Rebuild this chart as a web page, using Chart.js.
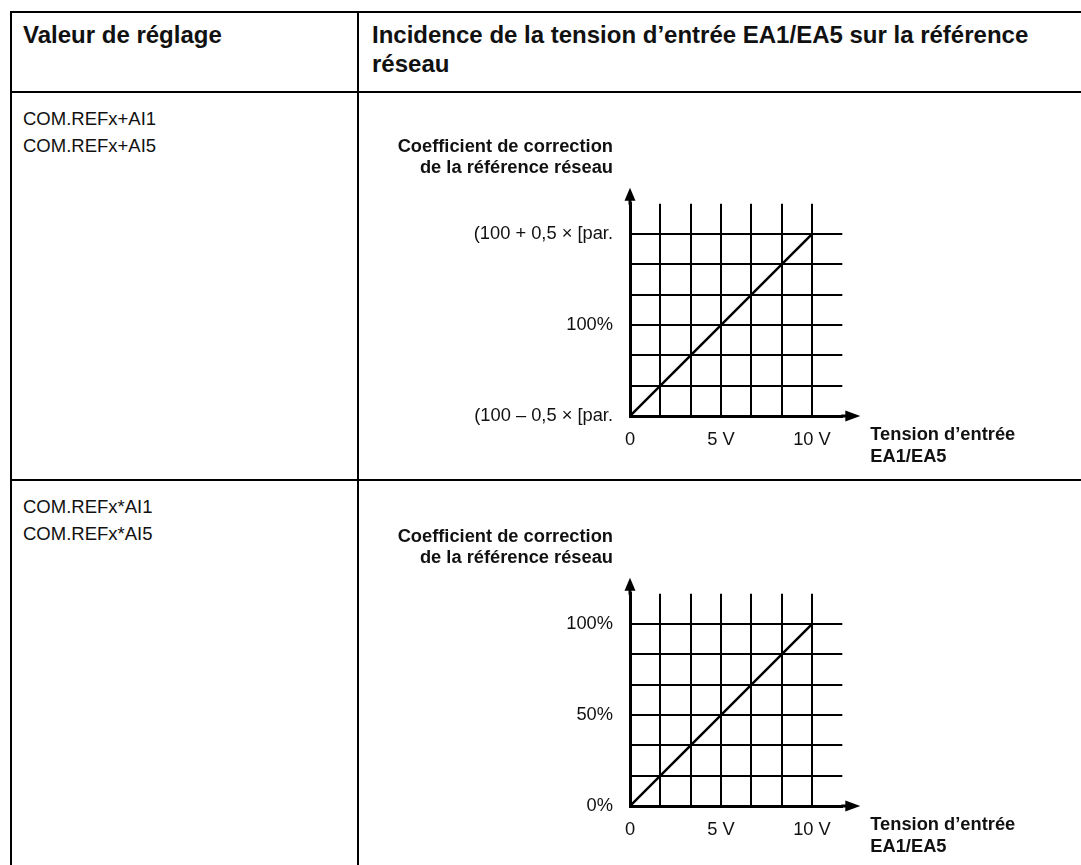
<!DOCTYPE html>
<html lang="fr">
<head>
<meta charset="utf-8">
<title>Incidence de la tension d'entrée EA1/EA5</title>
<script src="https://cdn.jsdelivr.net/npm/chart.js@4.4.1/dist/chart.umd.min.js"></script>
<style>
  html, body { margin: 0; padding: 0; background: #fff; }
  body { width: 1081px; height: 865px; overflow: hidden; position: relative; font-family: "Liberation Sans", Arial, sans-serif; color: #111; }
  .line { position: absolute; background: #000; }
  .txt { position: absolute; white-space: nowrap; }
  .head { font-weight: bold; font-size: 24px; line-height: 29px; }
  .cell { font-size: 18.5px; line-height: 27px; }
  canvas { position: absolute; }
</style>
</head>
<body>
  <!-- table rules -->
  <div class="line" style="left:10px; top:11px; width:1071px; height:2px;"></div>
  <div class="line" style="left:10px; top:11px; width:2px; height:854px;"></div>
  <div class="line" style="left:10px; top:91px; width:1071px; height:2px;"></div>
  <div class="line" style="left:357px; top:11px; width:2px; height:854px;"></div>
  <div class="line" style="left:10px; top:479px; width:1071px; height:2px;"></div>

  <div class="txt head" style="left:23px; top:20px;">Valeur de réglage</div>
  <div class="txt head" style="left:372px; top:20px;">Incidence de la tension d’entrée EA1/EA5 sur la référence<br>réseau</div>

  <div class="txt cell" style="left:23px; top:105px;">COM.REFx+AI1<br>COM.REFx+AI5</div>
  <div class="txt cell" style="left:23px; top:493px;">COM.REFx*AI1<br>COM.REFx*AI5</div>

  <canvas id="chartPlus" width="721" height="380" style="left:360px; top:93px;"></canvas>
  <canvas id="chartMult" width="721" height="380" style="left:360px; top:483px;"></canvas>

<script>
// input voltage EA1/EA5 (V)
const voltage = [0, 10];
// COM.REFx+AI : correction around 100 %, in multiples of the parameter
const coefPlus = [-0.5, 0.5];
// COM.REFx*AI : correction in %
const coefMult = [0, 100];

// grid positions (one extra cell beyond the last value, as in the drawing)
const voltGrid = [0, 10 / 6, 20 / 6, 5, 40 / 6, 50 / 6, 10, 70 / 6];
const voltTicks = [0, 5, 10];
const voltLabels = ['0', '5 V', '10 V'];

const plusGrid = [-0.5, -2 / 6, -1 / 6, 0, 1 / 6, 2 / 6, 0.5, 4 / 6];
const plusTicks = [-0.5, 0, 0.5];
const plusLabels = ['(100 – 0,5 × [par.', '100%', '(100 + 0,5 × [par.'];

const multGrid = [0, 100 / 6, 200 / 6, 50, 400 / 6, 500 / 6, 100, 700 / 6];
const multTicks = [0, 50, 100];
const multLabels = ['0%', '50%', '100%'];

const yTitle = ['Coefficient de correction', 'de la référence réseau'];
const xTitle = ['Tension d’entrée', 'EA1/EA5'];

const FONT = '"Liberation Sans", Arial, sans-serif';

function labelFor(value, ticks, labels) {
    const i = ticks.findIndex(t => Math.abs(t - value) < 1e-6);
    return i >= 0 ? labels[i] : '';
}

// axis arrows and axis captions
const axisDecor = {
    id: 'axisDecor',
    afterDraw(chart) {
        const ctx = chart.ctx;
        const a = chart.chartArea;
        const yScale = chart.scales.y;
        const yTop = yScale.getPixelForValue(yScale.ticks[yScale.ticks.length - 2].value);
        ctx.save();
        ctx.fillStyle = '#000';
        ctx.strokeStyle = '#000';
        ctx.lineWidth = 3;
        // y arrow
        ctx.beginPath();
        ctx.moveTo(a.left, a.top + 1);
        ctx.lineTo(a.left, a.top - 6);
        ctx.stroke();
        ctx.beginPath();
        ctx.moveTo(a.left, a.top - 16);
        ctx.lineTo(a.left - 5.5, a.top - 3);
        ctx.lineTo(a.left + 5.5, a.top - 3);
        ctx.closePath();
        ctx.fill();
        // x arrow
        ctx.beginPath();
        ctx.moveTo(a.right - 1, a.bottom);
        ctx.lineTo(a.right + 6, a.bottom);
        ctx.stroke();
        ctx.beginPath();
        ctx.moveTo(a.right + 18, a.bottom);
        ctx.lineTo(a.right + 3, a.bottom - 5.5);
        ctx.lineTo(a.right + 3, a.bottom + 5.5);
        ctx.closePath();
        ctx.fill();

        ctx.font = 'bold 18.3px ' + FONT;
        ctx.fillStyle = '#111';
        ctx.textBaseline = 'alphabetic';
        ctx.textAlign = 'right';
        ctx.fillText(yTitle[0], a.left - 17, yTop - 82);
        ctx.fillText(yTitle[1], a.left - 17, yTop - 61);
        ctx.textAlign = 'left';
        ctx.fillText(xTitle[0], a.right + 28, a.bottom + 24);
        ctx.fillText(xTitle[1], a.right + 28, a.bottom + 46);
        ctx.restore();
    }
};

function makeChart(id, yData, yGrid, yTicks, yLabels) {
    const ctx = document.getElementById(id).getContext('2d');
    return new Chart(ctx, {
        type: 'line',
        data: {
            datasets: [{
                data: voltage.map((v, i) => ({ x: v, y: yData[i] })),
                borderColor: '#000',
                borderWidth: 2.5,
                pointRadius: 0,
                fill: false,
                tension: 0
            }]
        },
        options: {
            responsive: false,
            animation: false,
            events: [],
            layout: {
                padding: { left: 0, top: 110.7, right: 238.7, bottom: 7 }
            },
            plugins: {
                legend: { display: false },
                tooltip: { enabled: false }
            },
            scales: {
                x: {
                    type: 'linear',
                    min: voltGrid[0],
                    max: voltGrid[voltGrid.length - 1],
                    afterBuildTicks: scale => { scale.ticks = voltGrid.map(v => ({ value: v })); },
                    afterFit: scale => { scale.height = 50; },
                    grid: {
                        drawTicks: false,
                        lineWidth: 2,
                        color: c => (c.tick && c.tick.value > 10.5) ? 'rgba(0,0,0,0)' : '#000'
                    },
                    border: { display: true, color: '#000', width: 3 },
                    ticks: {
                        padding: 13,
                        maxRotation: 0,
                        autoSkip: false,
                        color: '#111',
                        font: { family: FONT, size: 18.3 },
                        callback: value => labelFor(value, voltTicks, voltLabels)
                    }
                },
                y: {
                    type: 'linear',
                    min: yGrid[0],
                    max: yGrid[yGrid.length - 1],
                    afterBuildTicks: scale => { scale.ticks = yGrid.map(v => ({ value: v })); },
                    afterFit: scale => { scale.width = 270; },
                    grid: {
                        drawTicks: false,
                        lineWidth: 2,
                        color: c => (c.tick && c.index === yGrid.length - 1) ? 'rgba(0,0,0,0)' : '#000'
                    },
                    border: { display: true, color: '#000', width: 3 },
                    ticks: {
                        padding: 17,
                        autoSkip: false,
                        color: '#111',
                        font: { family: FONT, size: 18.3 },
                        callback: value => labelFor(value, yTicks, yLabels)
                    }
                }
            }
        },
        plugins: [axisDecor]
    });
}

makeChart('chartPlus', coefPlus, plusGrid, plusTicks, plusLabels);
makeChart('chartMult', coefMult, multGrid, multTicks, multLabels);
</script>
</body>
</html>
